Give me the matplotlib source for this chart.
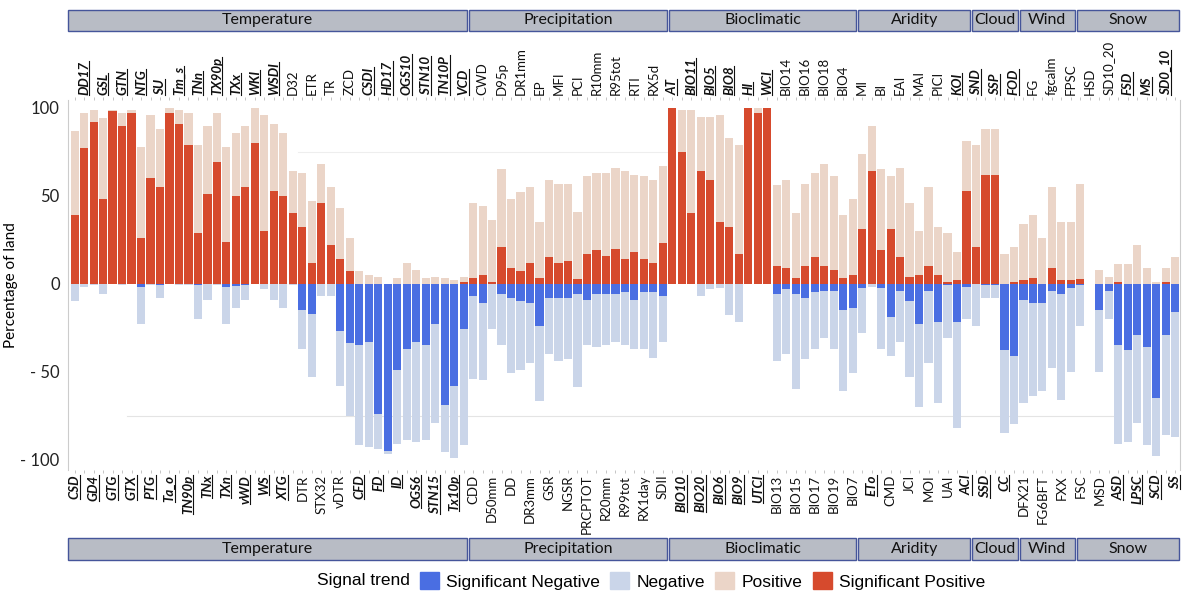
import numpy as np
import matplotlib.pyplot as plt
from matplotlib.patches import Rectangle, Patch
from matplotlib.lines import Line2D
from matplotlib import transforms

plt.rcParams['font.family'] = ['Lato', 'DejaVu Sans']

# indices in plotting order (left to right)
names = ['CSD', 'DD17', 'GD4', 'GSL', 'GTG', 'GTN', 'GTX', 'NTG', 'PTG', 'SU',
         'Ta_o', 'Tm_s', 'TN90p', 'TNn', 'TNx', 'TX90p', 'TXn', 'TXx', 'vWD', 'WKI',
         'WS', 'WSDI', 'XTG', 'D32', 'DTR', 'ETR', 'STX32', 'TR', 'vDTR', 'ZCD',
         'CFD', 'CSDI', 'FD', 'HD17', 'ID', 'OGS10', 'OGS6', 'STN10', 'STN15', 'TN10P',
         'Tx10p', 'VCD',
         'CDD', 'CWD', 'D50mm', 'D95p', 'DD', 'DR1mm', 'DR3mm', 'EP', 'GSR', 'MFI',
         'NGSR', 'PCI', 'PRCPTOT', 'R10mm', 'R20mm', 'R95tot', 'R99tot', 'RTI', 'RX1day', 'RX5d',
         'SDII',
         'AT', 'BIO10', 'BIO11', 'BIO20', 'BIO5', 'BIO6', 'BIO8', 'BIO9', 'HI', 'UTCI',
         'WCI', 'BIO13', 'BIO14', 'BIO15', 'BIO16', 'BIO17', 'BIO18', 'BIO19', 'BIO4', 'BIO7',
         'MI', 'ETo', 'BI', 'CMD', 'EAI', 'JCI', 'MAI', 'MOI', 'PICI', 'UAI', 'KOI', 'ACI',
         'SND', 'SSD', 'SSP', 'CC', 'FOD',
         'DFX21', 'FG', 'FG6BFT', 'fgcalm', 'FXX', 'FPSC',
         'FSC', 'HSD', 'MSD', 'SD10_20', 'ASD', 'FSD', 'LPSC', 'MS', 'SCD', 'SD0_10', 'SS']

# significant indices (bold, italic, underlined labels)
significant = ['CSD', 'DD17', 'GD4', 'GSL', 'GTG', 'GTN', 'GTX', 'NTG', 'PTG', 'SU',
               'Ta_o', 'Tm_s', 'TN90p', 'TNn', 'TNx', 'TX90p', 'TXn', 'TXx', 'vWD', 'WKI',
               'WS', 'WSDI', 'XTG', 'CFD', 'CSDI', 'FD', 'HD17', 'ID', 'OGS10', 'OGS6',
               'STN10', 'STN15', 'TN10P', 'Tx10p', 'VCD',
               'AT', 'BIO10', 'BIO11', 'BIO20', 'BIO5', 'BIO6', 'BIO8', 'BIO9', 'HI', 'UTCI', 'WCI',
               'ETo', 'KOI', 'ACI', 'SND', 'SSD', 'SSP', 'CC', 'FOD',
               'ASD', 'FSD', 'LPSC', 'MS', 'SCD', 'SD0_10', 'SS']

# percentage of land
sig_pos = [39, 77, 92, 48, 98, 90, 97, 26, 60, 55,
           97, 91, 79, 29, 51, 69, 24, 50, 55, 80,
           30, 53, 50, 40, 32, 12, 46, 22, 14, 7,
           0, 0, 0, 0, 0, 0, 0, 0, 0, 0,
           0, 1,
           3, 5, 1, 21, 9, 7, 12, 3, 15, 12,
           13, 2.5, 17, 19, 16, 20, 14, 18, 14, 12,
           23,
           100, 75, 40, 64, 59, 35, 32, 17, 100, 97,
           100, 10, 9, 3, 10, 15, 10, 8, 3, 5,
           31, 64, 19, 31, 15, 4, 5, 10, 5, 1, 2, 53,
           21, 62, 62, 0, 1,
           2, 3, 0, 9, 2, 2,
           2.5, 0, 0, 0, 1, 0, 0, 0, 0, 1, 0]
pos_all = [87, 97, 99, 94, 99, 97, 99, 78, 96, 88,
           100, 99, 97, 79, 90, 97, 78, 86, 90, 100,
           96, 91, 86, 64, 63, 47, 68, 55, 43, 26,
           7, 5, 4, 0, 3, 12, 8, 3, 4, 3,
           2, 4,
           46, 44, 36, 65, 48, 52, 55, 35, 59, 57,
           57, 41, 61, 63, 63, 66, 64, 62, 61, 59,
           67,
           100, 99, 99, 95, 95, 96, 83, 79, 100, 100,
           100, 56, 59, 40, 57, 63, 68, 61, 39, 48,
           74, 90, 65, 61, 66, 46, 30, 55, 32, 29, 18, 81,
           79, 88, 88, 17, 21,
           34, 39, 26, 55, 35, 35,
           57, 0, 8, 4, 11, 11, 22, 9, 1, 9, 15]
sig_neg = [0, 0, 0, 0, 0, 0, 0, -2, 0, -1,
           0, 0, 0, -1, 0, 0, -2, -1.5, -0.5, 0,
           0, 0, 0, 0, -15, -17, 0, 0, -27, -34,
           -35, -33, -74, -95, -49, -37, -33, -35, -23, -69,
           -58, -26,
           -7, -11, 0, -6, -8, -10, -11, -24, -8, -8,
           -8, -6, -9, -6, -6, -6, -5, -9, -5, -5,
           -7,
           0, 0, 0, 0, 0, 0, 0, 0, 0, 0,
           0, -6, -3, -6, -8, -5, -4, -4, -15, -14,
           -2.5, 0, -2.5, -19, -4, -10, -23, -4, -22, -1, -22, -2,
           0, -1, -1, -38, -41,
           -9, -11, -11, -4, -6, -2.5,
           -1, 0, -15, -4, -35, -38, -29, -36, -65, -29, -16]
neg_all = [-10, -2, -1, -6, 0, -1, 0, -23, -1, -8,
           0, -1, -1, -20, -9, -1, -23, -14, -9, 0,
           -3, -9, -14, -1, -37, -53, -7, -7, -58, -75,
           -92, -93, -94, -97, -91, -89, -90, -89, -79, -96,
           -99, -92,
           -54, -55, -26, -35, -51, -49, -45, -67, -40, -44,
           -43, -59, -35, -36, -35, -33, -35, -37, -37, -42,
           -33,
           0, 0, 0, -7, -3, -2.5, -18, -22, 0, 0,
           0, -44, -40, -60, -43, -37, -31, -37, -61, -51,
           -28, -2, -37, -41, -33, -53, -70, -45, -68, -31, -82, -20,
           -24, -8, -8, -85, -80,
           -68, -64, -61, -48, -66, -50,
           -24, 0, -50, -20, -91, -90, -79, -92, -98, -86, -87]

groups = ['Temperature', 'Precipitation', 'Bioclimatic', 'Aridity', 'Cloud', 'Wind', 'Snow']
group_sizes = [42, 21, 20, 12, 5, 6, 11]

c_sigpos = '#D64A2D'
c_pos = '#EBD5C8'
c_neg = '#CAD5E9'
c_signeg = '#4A6EE2'

fig = plt.figure(figsize=(11.82, 5.95), dpi=100)
ax = fig.add_axes([0.0575, 0.2101, 0.9408, 0.6218])

x = np.arange(len(names))
w = 0.86
ax.bar(x, pos_all, w, color=c_pos, zorder=2)
ax.bar(x, sig_pos, w, color=c_sigpos, zorder=3)
ax.bar(x, neg_all, w, color=c_neg, zorder=2)
ax.bar(x, sig_neg, w, color=c_signeg, zorder=3)

# faint reference lines visible in the original
ax.plot([5.5, 109.5], [-75, -75], color='#E4E4E4', lw=0.8, zorder=0)
ax.plot([23.5, 62.5], [75, 75], color='#EEEEEE', lw=0.8, zorder=0)

ax.set_xlim(-0.7, 116.5)
ax.set_ylim(-106, 104.5)
ax.set_yticks([-100, -50, 0, 50, 100])
ax.set_yticklabels(['- 100', '- 50', '0', '50', '100'], fontsize=12, color='#222222')
ax.set_ylabel('Percentage of land', fontsize=11)
ax.yaxis.set_label_coords(-0.045, 0.5)
ax.tick_params(axis='y', length=0, pad=6)
ax.set_xticks(x)
ax.set_xticklabels([])
ax.tick_params(axis='x', top=True, bottom=True, length=2.5, width=0.6, color='#BBBBBB')
for s in ['top', 'bottom']:
    ax.spines[s].set_visible(False)
for s in ['left', 'right']:
    ax.spines[s].set_color('#CCCCCC')

# index labels, alternating bottom / top
trans = transforms.blended_transform_factory(ax.transData, ax.transAxes)
sig_texts = []
for i, n in enumerate(names):
    bold = n in significant
    kw = dict(rotation=90, ha='center', fontsize=9.5, transform=trans, color='#111111',
              fontweight='bold' if bold else 'normal',
              fontstyle='italic' if bold else 'normal')
    if i % 2 == 0:
        t = ax.text(i, -0.013, n, va='top', **kw)
    else:
        t = ax.text(i, 1.013, n, va='bottom', **kw)
    if bold:
        sig_texts.append(t)

# group bands top and bottom
btrans = transforms.blended_transform_factory(ax.transData, fig.transFigure)
start = 0
for g, size in zip(groups, group_sizes):
    x0 = start - 0.5 + 0.1 if start > 0 else -0.7
    x1 = start + size - 0.5 - 0.1
    for y0, h in [(0.9479, 0.0353), (0.0588, 0.0370)]:
        ax.add_patch(Rectangle((x0, y0), x1 - x0, h, transform=btrans, clip_on=False,
                               facecolor='#B8BCC5', edgecolor='#45559A', lw=1.0))
        ax.text((x0 + x1) / 2, y0 + h / 2, g, transform=btrans, ha='center', va='center',
                fontsize=11.5, color='#111111')
    start += size

# legend
lfont = {'family': 'Liberation Sans', 'size': 12.5}
fig.text(317 / 1182, 1 - 581 / 595, 'Signal trend', va='center', ha='left', **lfont)
handles = [Patch(color=c_signeg), Patch(color=c_neg), Patch(color=c_pos), Patch(color=c_sigpos)]
labels = ['Significant Negative', 'Negative', 'Positive', 'Significant Positive']
fig.legend(handles, labels, loc='center left', bbox_to_anchor=(420 / 1182, 1 - 581 / 595),
           ncol=4, frameon=False, prop=lfont, handlelength=1.1, handleheight=1.1,
           handletextpad=0.4, columnspacing=0.6, borderpad=0, borderaxespad=0)

# underline significant labels (baseline is on the right side of rotated text)
fig.canvas.draw()
r = fig.canvas.get_renderer()
for t in sig_texts:
    bb = t.get_window_extent(r)
    xl = bb.x1 - 1
    fig.add_artist(Line2D([xl, xl], [bb.y0, bb.y1], transform=transforms.IdentityTransform(),
                          color='#111111', lw=0.8))

fig.savefig('out.png', dpi=100)
